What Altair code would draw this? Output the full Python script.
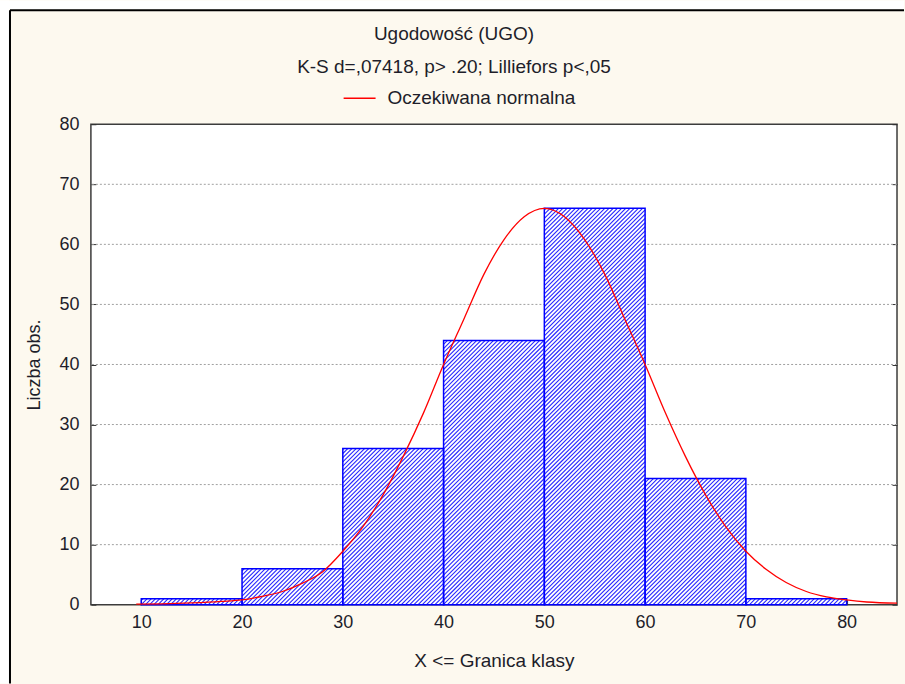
import math
import altair as alt
import pandas as pd

# ---------------- data ----------------
bin_start = [10, 20, 30, 40, 50, 60, 70]
bin_end = [20, 30, 40, 50, 60, 70, 80]
counts = [1, 6, 26, 44, 66, 21, 1]

curve_x = [9.5, 12, 15, 18, 20, 22, 24, 26, 28, 30, 32, 34, 36, 38, 40, 42, 44, 46, 48, 50,
           52, 54, 56, 58, 60, 62, 64, 66, 68, 70, 72, 74, 76, 78, 80, 82, 85]
curve_y = [0.1, 0.15, 0.3, 0.55, 0.8, 1.4, 2.2, 3.6, 5.5, 8.9, 13.0, 18.3, 24.7, 31.9, 40.0,
           47.5, 55.0, 60.8, 64.6, 66.0, 64.6, 60.8, 55.0, 47.5, 40.0, 32.0, 24.7, 18.3, 13.0,
           8.9, 5.9, 3.7, 2.2, 1.3, 0.8, 0.45, 0.25]

x_ticks = [10, 20, 30, 40, 50, 60, 70, 80]
y_ticks = [0, 10, 20, 30, 40, 50, 60, 70, 80]
grid_levels = [10, 20, 30, 40, 50, 60, 70]

title_text = "Ugodowość (UGO)"
subtitle_text = "K-S d=,07418, p> .20; Lilliefors p<,05"
legend_label = "Oczekiwana normalna"
x_title = "X  <= Granica klasy"
y_title = "Liczba obs."

# ---------------- layout / style ----------------
W, H = 807, 481
XD = [5, 85]
YD = [0, 80]
FONT = "Liberation Sans"
TXT = "#1e1e2a"
FS = 18
FS_TOP = 19
BLUE = "#0000ff"

bars = pd.DataFrame({"x0": bin_start, "x1": bin_end, "n": counts})
curve = pd.DataFrame({"cx": curve_x, "cy": curve_y, "series": [legend_label] * len(curve_x)})
grid = pd.DataFrame({"gy": grid_levels})

# hatch lines (45 degrees on screen) derived from the bar rectangles
sx = W / (XD[1] - XD[0])
sy = H / (YD[1] - YD[0])
P = 4.2
rows = []
for x0, x1, h in zip(bin_start, bin_end, counts):
    u0 = (x0 - XD[0]) * sx
    u1 = (x1 - XD[0]) * sx
    v1 = h * sy
    k0 = math.ceil((u0 - v1) / P)
    k1 = math.floor(u1 / P)
    for k in range(k0, k1 + 1):
        c = k * P
        vs = max(0.0, u0 - c)
        ve = min(v1, u1 - c)
        if ve - vs > 0.3:
            rows.append({"hx": (c + vs) / sx + XD[0], "hy": vs / sy,
                         "hx2": (c + ve) / sx + XD[0], "hy2": ve / sy})
hatch = pd.DataFrame(rows)

xs = alt.Scale(domain=XD, nice=False, zero=False)
ys = alt.Scale(domain=YD, nice=False, zero=False)

x_axis = alt.Axis(orient="bottom", values=x_ticks, offset=-5, tickSize=5, tickColor="#303030",
                  domain=False, grid=False, labelPadding=9, labelFont=FONT, labelFontSize=FS,
                  labelColor=TXT, title=x_title, titleFont=FONT, titleFontSize=FS_TOP,
                  titleFontWeight="normal", titleColor=TXT, titlePadding=20, format="d")
y_axis_left = alt.Axis(orient="left", values=y_ticks, offset=-5, tickSize=5, tickColor="#303030",
                       domain=False, grid=False, labelPadding=12, labelFont=FONT,
                       labelFontSize=FS, labelColor=TXT, title=y_title, titleFont=FONT,
                       titleFontSize=FS, titleFontWeight="normal", titleColor=TXT,
                       titlePadding=15, format="d")
y_axis_right = alt.Axis(orient="right", values=y_ticks, offset=-5, tickSize=5,
                        tickColor="#303030", domain=False, grid=False, labels=False, title=None)

grid_layer = alt.Chart(grid).mark_rule(color="#a0a0a0", strokeWidth=1, strokeDash=[2, 2]).encode(
    y=alt.Y("gy:Q", scale=ys, axis=y_axis_right)
)

bar_fill = alt.Chart(bars).mark_rect(color="white").encode(
    x=alt.X("x0:Q", scale=xs, axis=x_axis),
    x2="x1:Q",
    y=alt.Y("n:Q", scale=ys, axis=y_axis_left),
    y2=alt.datum(0),
)

hatch_layer = alt.Chart(hatch).mark_rule(color=BLUE, strokeWidth=1.1, opacity=0.85).encode(
    x=alt.X("hx:Q", scale=xs, axis=None),
    y=alt.Y("hy:Q", scale=ys, axis=None),
    x2="hx2:Q",
    y2="hy2:Q",
)

bar_outline = alt.Chart(bars).mark_rect(fillOpacity=0, stroke=BLUE, strokeWidth=1.5).encode(
    x=alt.X("x0:Q", scale=xs, axis=None),
    x2="x1:Q",
    y=alt.Y("n:Q", scale=ys, axis=None),
    y2=alt.datum(0),
)

curve_layer = alt.Chart(curve).mark_line(strokeWidth=1.3, interpolate="monotone").encode(
    x=alt.X("cx:Q", scale=xs, axis=None),
    y=alt.Y("cy:Q", scale=ys, axis=None),
    color=alt.Color("series:N",
                    scale=alt.Scale(domain=[legend_label], range=["#ff0000"]),
                    legend=alt.Legend(orient="none", legendX=252, legendY=-43, title=None,
                                      symbolType="stroke", symbolSize=1024,
                                      symbolStrokeWidth=1.3, labelFont=FONT,
                                      labelFontSize=FS_TOP, labelColor=TXT, labelOffset=11,
                                      labelLimit=400, padding=0)),
)

one = pd.DataFrame({"d": [0]})
frame_white_left = alt.Chart(one).mark_rect(color="white").encode(
    x=alt.value(-91), x2=alt.value(-82), y=alt.value(-124), y2=alt.value(560))
frame_white_top = alt.Chart(one).mark_rect(color="white").encode(
    x=alt.value(-91), x2=alt.value(814), y=alt.value(-124), y2=alt.value(-115))
frame_line_left = alt.Chart(one).mark_rule(color="#000000", strokeWidth=2).encode(
    x=alt.value(-81), y=alt.value(-114), y2=alt.value(560))
frame_line_top = alt.Chart(one).mark_rule(color="#000000", strokeWidth=2).encode(
    x=alt.value(-81), x2=alt.value(814), y=alt.value(-114))

chart = alt.layer(
    frame_white_left, frame_white_top, frame_line_left, frame_line_top,
    grid_layer, bar_fill, hatch_layer, bar_outline, curve_layer,
).resolve_axis(x="independent", y="independent").properties(
    width=W,
    height=H,
    padding=0,
    background="#fdf9ef",
    title=alt.TitleParams(text=title_text, subtitle=subtitle_text, font=FONT, fontSize=FS_TOP,
                          fontWeight="normal", color=TXT, subtitleFont=FONT,
                          subtitleFontSize=FS_TOP, subtitleColor=TXT, subtitlePadding=14,
                          anchor="middle", frame="group", dx=-40, dy=89, offset=12),
).configure_view(fill="white", stroke="#3c3c3c", strokeWidth=1.5)

chart.save("out.html", embed_options={"renderer": "svg", "actions": False})
